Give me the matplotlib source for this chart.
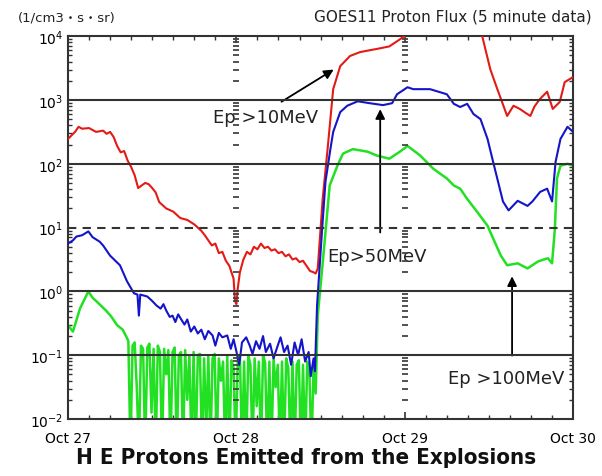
import matplotlib.pyplot as plt
import numpy as np
from matplotlib.ticker import FixedLocator, LogLocator, NullFormatter

# GOES11 proton flux: time in hours from Oct 27 00:00, log10(flux)
red_hours = [0, 1, 1.5, 2, 3, 4, 5, 5.5, 6, 6.5, 7, 7.5, 8, 8.5, 9, 9.5, 10, 10.5, 11, 11.5,
             12, 12.5, 13, 14, 15, 16, 17, 18, 18.5, 19, 19.5, 20, 20.5, 21, 21.5, 22, 22.5,
             23, 23.3, 23.6, 23.8, 24.0, 24.2, 24.5, 25, 25.5, 26, 26.5, 27, 27.5, 28, 28.5,
             29, 29.5, 30, 30.5, 31, 31.5, 32, 32.5, 33, 33.5, 34, 34.5, 35, 35.3, 35.6, 36.3,
             37, 37.8, 38.8, 40.2, 41.6, 43, 44, 45.8, 47.3, 48.5, 50, 58, 59, 60.2, 61.2,
             61.7, 62.6, 63.5, 64.4, 65.2, 65.9, 66.5, 67.3, 68.3, 69.1, 70.1, 70.8, 72]
red_log = [2.39, 2.50, 2.58, 2.55, 2.56, 2.50, 2.52, 2.47, 2.50, 2.42, 2.28, 2.18, 2.20, 2.05,
           1.95, 1.82, 1.62, 1.66, 1.70, 1.68, 1.62, 1.55, 1.40, 1.30, 1.25, 1.15, 1.12, 1.05,
           1.00, 0.95, 0.88, 0.80, 0.72, 0.75, 0.60, 0.62, 0.48, 0.40, 0.30, 0.20, -0.15, -0.20,
           0.05, 0.30, 0.50, 0.62, 0.58, 0.70, 0.66, 0.75, 0.68, 0.70, 0.64, 0.66, 0.60, 0.62,
           0.55, 0.58, 0.50, 0.52, 0.46, 0.48, 0.40, 0.32, 0.30, 0.28, 0.36, 1.45, 2.23, 3.17,
           3.53, 3.69, 3.75, 3.78, 3.80, 3.84, 3.95, 4.05, 4.3, 4.3, 4.02, 3.48, 3.17, 3.02,
           2.75, 2.91, 2.86, 2.80, 2.75, 2.90, 3.02, 3.13, 2.86, 2.97, 3.28, 3.36]

blue_hours = [0, 0.7, 1.2, 2, 2.9, 3.5, 4.5, 5, 6, 7.4, 8.4, 9.4, 9.9, 10.1, 10.3, 11.3, 12,
              12.6, 13.2, 13.6, 14, 14.5, 14.9, 15.3, 15.7, 16.2, 16.6, 17, 17.5, 18, 18.5, 19,
              19.5, 20, 20.6, 21, 21.5, 22, 22.7, 23.2, 23.6, 24, 24.4, 24.8, 25.4, 25.9, 26.3,
              26.8, 27.3, 27.8, 28.2, 28.8, 29.3, 29.8, 30.3, 30.8, 31.3, 31.8, 32.3, 32.8, 33.3,
              33.8, 34.3, 34.6, 35, 35.2, 35.5, 36.2, 36.7, 37.4, 37.8, 38.8, 39.8, 41.3, 43,
              44.9, 46.2, 46.9, 48.4, 49.2, 51.6, 54, 55, 55.9, 56.9, 57.8, 58.8, 59.8, 60.6,
              61.3, 62, 62.8, 64.1, 65.5, 66.2, 67.3, 68.3, 69, 69.5, 70.2, 71.2, 72]
blue_log = [0.75, 0.80, 0.86, 0.88, 0.94, 0.85, 0.78, 0.72, 0.56, 0.41, 0.16, -0.03, -0.05,
            -0.38, -0.05, -0.08, -0.15, -0.22, -0.27, -0.20, -0.30, -0.40, -0.38, -0.48, -0.36,
            -0.45, -0.52, -0.44, -0.63, -0.55, -0.66, -0.60, -0.75, -0.62, -0.69, -0.85, -0.65,
            -0.72, -0.69, -0.90, -0.75, -0.94, -1.15, -0.80, -0.72, -0.85, -0.98, -0.78, -0.90,
            -0.70, -0.95, -0.82, -1.05, -0.88, -0.72, -0.95, -0.85, -1.15, -0.80, -1.00, -0.75,
            -1.10, -0.95, -1.33, -1.05, -1.25, -0.22, 0.94, 1.72, 2.23, 2.50, 2.81, 2.91, 2.98,
            2.95, 2.92, 2.95, 3.09, 3.20, 3.17, 3.17, 3.09, 2.94, 2.89, 2.94, 2.78, 2.70, 2.39,
            2.03, 1.72, 1.41, 1.27, 1.42, 1.34, 1.41, 1.56, 1.61, 1.41, 2.03, 2.39, 2.58, 2.50]

green_hours = [0, 0.7, 1.7, 2.9, 3.5, 4.1, 5.5, 6.2, 7, 7.8, 8.4,
               8.6, 8.9, 9.2, 9.5, 9.8, 10.1, 10.4, 10.7, 11.0, 11.3, 11.6, 11.9, 12.2, 12.5,
               12.8, 13.1, 13.4, 13.7, 14.0, 14.3, 14.6, 14.9, 15.2, 15.5, 15.8, 16.1, 16.4,
               16.7, 17.0, 17.3, 17.6, 17.9, 18.2, 18.5, 18.8, 19.1, 19.4, 19.7, 20.0, 20.3,
               20.6, 20.9, 21.2, 21.5, 21.8, 22.1, 22.4, 22.7, 23.0, 23.3, 23.6, 23.9, 24.2,
               24.5, 24.8, 25.1, 25.4, 25.7, 26.0, 26.3, 26.6, 26.9, 27.2, 27.5, 27.8, 28.1,
               28.4, 28.7, 29.0, 29.3, 29.6, 29.9, 30.2, 30.5, 30.8, 31.1, 31.4, 31.7, 32.0,
               32.3, 32.6, 32.9, 33.2, 33.5, 33.8, 34.1, 34.4, 34.7, 35.0, 35.3,
               35.6, 36.4, 37, 37.3, 38.4, 39.2, 40.6, 42.7, 44, 45.8, 47.3, 48.4, 50.2, 52.1,
               54, 55, 55.9, 56.9, 58.3, 59.8, 60.6, 61.7, 62.6, 64.1, 65.5, 67, 68.4, 69,
               69.4, 69.7, 70.2, 71.2, 72]
green_log = [-0.53, -0.63, -0.27, 0.0, -0.10, -0.16, -0.31, -0.40, -0.53, -0.60, -0.73,
             -0.78, -2.5, -0.85, -0.80, -1.5, -2.5, -0.85, -0.90, -2.5, -0.88, -0.82, -1.9,
             -0.90, -2.5, -0.85, -0.95, -2.5, -0.90, -1.3, -0.92, -2.5, -0.95, -0.88, -2.5,
             -1.0, -0.95, -2.5, -0.92, -1.7, -1.0, -2.5, -0.95, -2.5, -1.0, -0.98, -2.5, -1.05,
             -2.2, -1.0, -2.5, -1.05, -0.98, -2.5, -1.05, -1.4, -1.1, -2.5, -1.0, -2.5, -1.08,
             -1.2, -2.5, -1.05, -1.0, -2.5, -1.1, -2.5, -1.0, -1.15, -2.5, -1.05, -1.8, -1.1,
             -2.5, -1.0, -1.12, -2.5, -1.1, -2.5, -1.05, -1.5, -1.15, -2.5, -1.1, -2.5, -1.05,
             -1.2, -2.5, -1.1, -2.5, -1.15, -1.08, -2.5, -1.15, -2.5, -1.1, -1.25, -2.5, -1.2,
             -1.6,
             -0.38, 0.56, 1.30, 1.66, 1.97, 2.16, 2.23, 2.19, 2.13, 2.08, 2.19, 2.28, 2.13,
             1.92, 1.77, 1.66, 1.61, 1.45, 1.25, 1.03, 0.83, 0.56, 0.41, 0.44, 0.36, 0.47,
             0.52, 0.44, 0.98, 1.77, 1.97, 2.00, 1.97]

day_labels = ["Oct 27", "Oct 28", "Oct 29", "Oct 30"]
solid_levels = [1e3, 1e2, 1e0, 1e-1]
dashed_levels = [1e1]

fig = plt.figure(figsize=(6.02, 4.77), dpi=100)
ax = fig.add_axes([0.113, 0.1195, 0.839, 0.8025])

ax.plot(red_hours, 10 ** np.array(red_log), color="#e41a14", lw=1.5, zorder=3)
ax.plot(blue_hours, 10 ** np.array(blue_log), color="#1414c8", lw=1.5, zorder=3)
ax.plot(green_hours, 10 ** np.array(green_log), color="#22e022", lw=1.8, zorder=2)

ax.set_yscale("log")
ax.set_ylim(1e-2, 1e4)
ax.set_xlim(0, 72)

for lv in solid_levels:
    ax.axhline(lv, color="#333333", lw=1.5, zorder=4)
for lv in dashed_levels:
    ax.axhline(lv, color="#333333", lw=1.5, ls=(0, (4, 3)), zorder=4)

# dotted columns of log tick marks at Oct 28 / Oct 29
tick_vals = [m * 10.0 ** e for e in range(-2, 4) for m in range(2, 10)]
for h in [24, 48]:
    ax.plot([h] * len(tick_vals), tick_vals, ls="none", marker="_", ms=5,
            mew=1.3, color="#444444", zorder=4)

ax.xaxis.set_major_locator(FixedLocator([0, 24, 48, 72]))
ax.xaxis.set_minor_locator(FixedLocator(list(range(0, 73, 3))))
ax.set_xticklabels(day_labels)
ax.yaxis.set_major_locator(LogLocator(base=10, numticks=10))
ax.yaxis.set_minor_locator(LogLocator(base=10, subs=np.arange(2, 10), numticks=10))
ax.yaxis.set_minor_formatter(NullFormatter())
ax.tick_params(axis="both", which="both", direction="in", top=True, right=True,
               color="#333333")
ax.tick_params(axis="both", which="major", length=5, width=1.2, labelsize=10)
ax.tick_params(axis="both", which="minor", length=3, width=1.0)
ax.tick_params(axis="x", pad=9)
for s in ax.spines.values():
    s.set_linewidth(1.5)
    s.set_color("#333333")

fnt = ["DejaVu Sans", "Noto Sans CJK JP"]
fig.text(0.03, 0.955, "(1/cm3・s・sr)", fontsize=9.5, family=fnt, color="#222222")
fig.text(0.983, 0.955, "GOES11 Proton Flux (5 minute data)", fontsize=11,
         family=fnt, ha="right", color="#222222")

ax.annotate("", xy=(38.2, 10 ** 3.5), xytext=(30.1, 10 ** 2.95),
            arrowprops=dict(arrowstyle="-|>", color="black", lw=1.3, mutation_scale=14))
ax.text(20.7, 10 ** 2.73, "Ep >10MeV", fontsize=13, va="center", color="#222222")
ax.annotate("", xy=(44.5, 10 ** 2.9), xytext=(44.5, 10 ** 0.88),
            arrowprops=dict(arrowstyle="-|>", color="black", lw=1.3, mutation_scale=14))
ax.text(36.9, 10 ** 0.55, "Ep>50MeV", fontsize=13, va="center", color="#222222")
ax.annotate("", xy=(63.3, 10 ** 0.28), xytext=(63.3, 10 ** -1.05),
            arrowprops=dict(arrowstyle="-|>", color="black", lw=1.3, mutation_scale=14))
ax.text(54.2, 10 ** -1.36, "Ep >100MeV", fontsize=13, va="center", color="#222222")

fig.text(0.508, 0.028, "H E Protons Emitted from the Explosions", fontsize=16,
         fontweight="bold", fontstretch="condensed", ha="center", va="baseline",
         color="#111111")

fig.savefig("out.png", dpi=100, facecolor="white")
